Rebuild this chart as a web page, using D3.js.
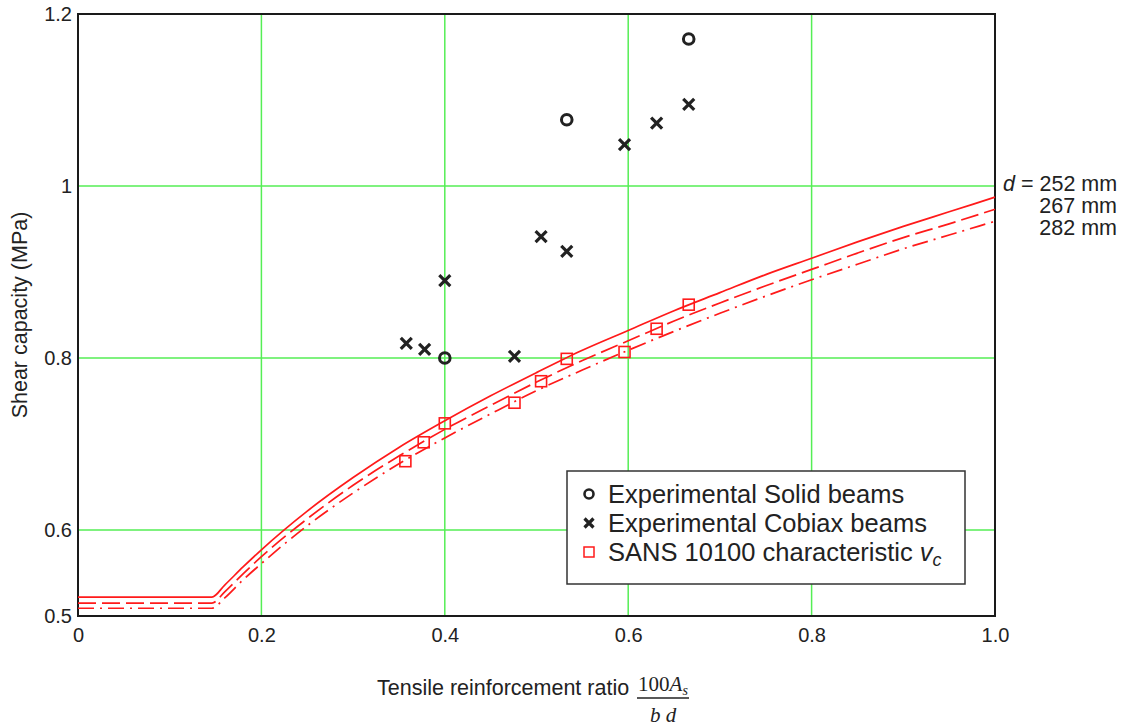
<!DOCTYPE html>
<html>
<head>
<meta charset="utf-8">
<script src="https://cdn.jsdelivr.net/npm/d3@7"></script>
<style>
  body { margin: 0; background: #fff; }
  text { font-family: "Liberation Sans", Arial, sans-serif; fill: #222; }
  .serif { font-family: "Liberation Serif", "Times New Roman", serif; }
</style>
</head>
<body>
<div id="chart"></div>
<script>
// tick values and labels
const xTicks = [0, 0.2, 0.4, 0.6, 0.8, 1.0];
const xTickLabels = ["0", "0.2", "0.4", "0.6", "0.8", "1.0"];
const yTicks = [0.5, 0.6, 0.8, 1.0, 1.2];
const yTickLabels = ["0.5", "0.6", "0.8", "1", "1.2"];

// experimental points (reinforcement ratio, shear capacity MPa)
const solidX = [0.400, 0.533, 0.666];
const solidY = [0.800, 1.077, 1.171];
const cobiaxX = [0.358, 0.378, 0.400, 0.476, 0.505, 0.533, 0.596, 0.631, 0.666];
const cobiaxY = [0.817, 0.810, 0.890, 0.802, 0.941, 0.924, 1.048, 1.073, 1.095];
const sansX = [0.357, 0.377, 0.400, 0.476, 0.505, 0.533, 0.596, 0.631, 0.666];
const sansY = [0.680, 0.702, 0.724, 0.748, 0.773, 0.799, 0.807, 0.834, 0.862];

// characteristic vc curves for the three effective depths
const curveX = [0, 0.146, 0.16, 0.18, 0.2, 0.25, 0.3, 0.35, 0.4, 0.45, 0.5, 0.55,
                0.6, 0.65, 0.7, 0.75, 0.8, 0.85, 0.9, 0.95, 1.0];
const vc252 = [0.522, 0.522, 0.536, 0.557, 0.577, 0.622, 0.661, 0.696, 0.727, 0.756, 0.783, 0.809,
               0.832, 0.855, 0.876, 0.897, 0.916, 0.935, 0.953, 0.970, 0.987];
const vc267 = [0.515, 0.515, 0.528, 0.549, 0.569, 0.613, 0.652, 0.686, 0.717, 0.745, 0.772, 0.797,
               0.820, 0.843, 0.864, 0.884, 0.903, 0.922, 0.940, 0.956, 0.973];
const vc282 = [0.509, 0.509, 0.521, 0.542, 0.561, 0.605, 0.643, 0.677, 0.707, 0.735, 0.762, 0.786,
               0.809, 0.831, 0.852, 0.872, 0.891, 0.909, 0.927, 0.943, 0.959];
const depthLabels = ["252 mm", "267 mm", "282 mm"];

const legendLabels = ["Experimental Solid beams", "Experimental Cobiax beams", "SANS 10100 characteristic "];

const width = 1124, height = 726;
const svg = d3.select("#chart").append("svg")
  .attr("width", width)
  .attr("height", height);

const x = d3.scaleLinear().domain([0, 1]).range([78, 995]);
const y = d3.scaleLinear().domain([0.5, 1.2]).range([616, 14]);

// grid
svg.append("g")
  .selectAll("line.vg")
  .data(xTicks.filter(d => d > 0 && d < 1))
  .join("line")
  .attr("x1", d => x(d)).attr("x2", d => x(d))
  .attr("y1", y(0.5)).attr("y2", y(1.2))
  .attr("stroke", "#55ee55").attr("stroke-width", 1.5);

svg.append("g")
  .selectAll("line.hg")
  .data(yTicks.filter(d => d > 0.5 && d < 1.2))
  .join("line")
  .attr("x1", x(0)).attr("x2", x(1))
  .attr("y1", d => y(d)).attr("y2", d => y(d))
  .attr("stroke", "#55ee55").attr("stroke-width", 1.5);

// frame
svg.append("rect")
  .attr("x", x(0)).attr("y", y(1.2))
  .attr("width", x(1) - x(0)).attr("height", y(0.5) - y(1.2))
  .attr("fill", "none").attr("stroke", "#1a1a1a").attr("stroke-width", 2);

// axes
const xAxis = d3.axisBottom(x).tickValues(xTicks).tickSize(0)
  .tickFormat((d, i) => xTickLabels[i]);
svg.append("g")
  .attr("transform", "translate(0," + y(0.5) + ")")
  .call(xAxis)
  .call(g => g.select(".domain").remove())
  .selectAll("text")
  .attr("dy", null).attr("y", 26);

const yAxis = d3.axisLeft(y).tickValues(yTicks).tickSize(0)
  .tickFormat((d, i) => yTickLabels[i]);
svg.append("g")
  .attr("transform", "translate(" + x(0) + ",0)")
  .call(yAxis)
  .call(g => g.select(".domain").remove())
  .selectAll("text")
  .attr("x", -6);

svg.selectAll(".tick text")
  .style("fill", "#222")
  .style("font-size", "20px")
  .style("font-family", "'Liberation Sans', Arial, sans-serif");

// curves
const curves = [
  { vals: vc252, dash: null },
  { vals: vc267, dash: "18,6" },
  { vals: vc282, dash: "16,6,2,6" }
];
const line = d3.line()
  .x((d, i) => x(curveX[i]))
  .y(d => y(d))
  .curve(d3.curveMonotoneX);

svg.append("g")
  .selectAll("path")
  .data(curves)
  .join("path")
  .attr("d", d => line(d.vals))
  .attr("fill", "none")
  .attr("stroke", "#ff1a1a")
  .attr("stroke-width", 1.7)
  .attr("stroke-dasharray", d => d.dash);

// SANS squares
svg.append("g")
  .selectAll("rect")
  .data(sansX)
  .join("rect")
  .attr("x", (d, i) => x(d) - 5.5)
  .attr("y", (d, i) => y(sansY[i]) - 5.5)
  .attr("width", 11).attr("height", 11)
  .attr("fill", "none").attr("stroke", "#ff1a1a").attr("stroke-width", 1.6);

// cobiax crosses
const cross = (g, cx, cy, s) => {
  g.append("path")
    .attr("d", `M${cx - s},${cy - s}L${cx + s},${cy + s}M${cx - s},${cy + s}L${cx + s},${cy - s}`)
    .attr("stroke", "#222").attr("stroke-width", 3.2).attr("fill", "none");
};
const crossG = svg.append("g");
cobiaxX.forEach((d, i) => cross(crossG, x(d), y(cobiaxY[i]), 5.5));

// solid circles
svg.append("g")
  .selectAll("circle")
  .data(solidX)
  .join("circle")
  .attr("cx", d => x(d))
  .attr("cy", (d, i) => y(solidY[i]))
  .attr("r", 5.3)
  .attr("fill", "none").attr("stroke", "#222").attr("stroke-width", 3);

// depth annotations
const ann = svg.append("g").attr("font-size", 21.5);
ann.append("text").attr("x", 1003).attr("y", 191)
  .html('<tspan font-style="italic">d</tspan> = ' + depthLabels[0]);
depthLabels.slice(1).forEach((t, i) => {
  ann.append("text").attr("x", 1117).attr("y", 213 + i * 22)
    .attr("text-anchor", "end").text(t);
});

// legend
const lg = svg.append("g");
lg.append("rect")
  .attr("x", 567).attr("y", 471).attr("width", 398).attr("height", 113)
  .attr("fill", "#fff").attr("stroke", "#333").attr("stroke-width", 1.5);
const rowY = [494, 523, 552];
lg.append("circle").attr("cx", 589).attr("cy", rowY[0]).attr("r", 4.5)
  .attr("fill", "none").attr("stroke", "#222").attr("stroke-width", 2.6);
cross(lg, 589, rowY[1], 4.5);
lg.append("rect").attr("x", 584).attr("y", rowY[2] - 5).attr("width", 10).attr("height", 10)
  .attr("fill", "none").attr("stroke", "#ff1a1a").attr("stroke-width", 1.5);
legendLabels.forEach((t, i) => {
  const tx = lg.append("text").attr("x", 608).attr("y", rowY[i] + 8.5).attr("font-size", 25.5).text(t);
  if (i === 2) {
    tx.append("tspan").attr("font-style", "italic").text("v");
    tx.append("tspan").attr("font-style", "italic").attr("font-size", 18).attr("dy", 5).text("c");
  }
});

// axis titles
svg.append("text")
  .attr("transform", "translate(27,315) rotate(-90)")
  .attr("text-anchor", "middle").attr("font-size", 21.5)
  .text("Shear capacity (MPa)");

svg.append("text")
  .attr("x", 377).attr("y", 695).attr("font-size", 21.5)
  .text("Tensile reinforcement ratio");
const num = svg.append("text").attr("class", "serif")
  .attr("x", 663).attr("y", 691).attr("text-anchor", "middle").attr("font-size", 21);
num.append("tspan").text("100");
num.append("tspan").attr("font-style", "italic").text("A");
num.append("tspan").attr("font-style", "italic").attr("font-size", 14).attr("dy", 4).text("s");
svg.append("line")
  .attr("x1", 637).attr("x2", 689).attr("y1", 698).attr("y2", 698)
  .attr("stroke", "#222").attr("stroke-width", 1.3);
svg.append("text").attr("class", "serif")
  .attr("x", 663).attr("y", 722).attr("text-anchor", "middle").attr("font-size", 21)
  .attr("font-style", "italic").text("b d");
</script>
</body>
</html>
